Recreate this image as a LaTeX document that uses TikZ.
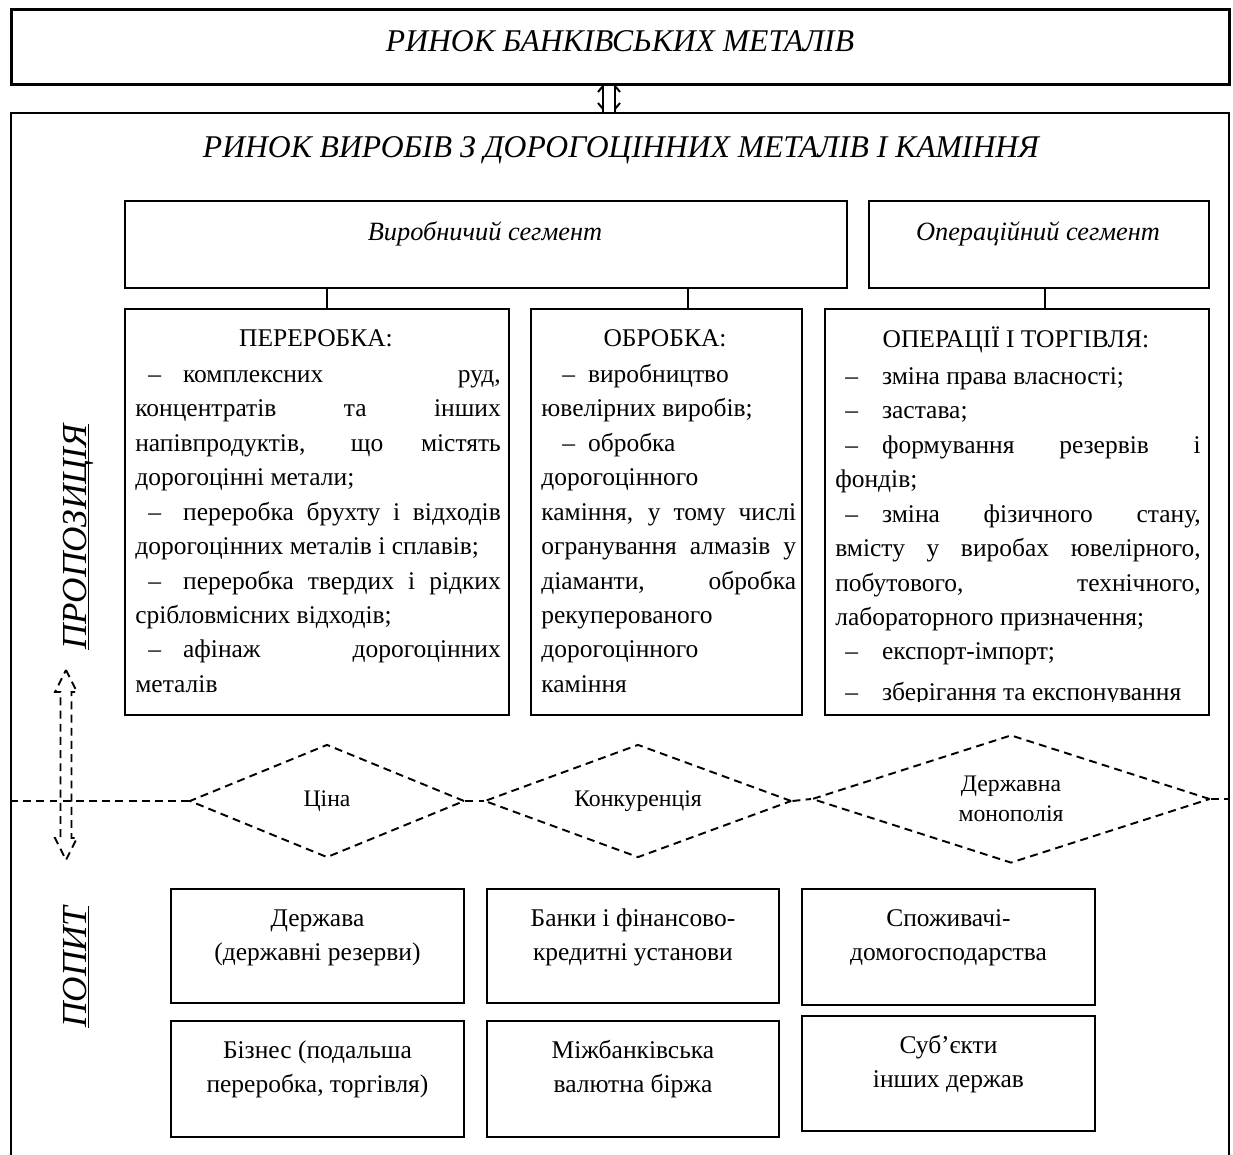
\documentclass[tikz,border=0pt]{standalone}
\usepackage{fontspec}
\setmainfont{Liberation Serif}
\usetikzlibrary{shapes.geometric}
\newcommand{\boxat}[6][]{\node[box,#1,minimum width={(#5-#3)*0.02cm},minimum height={(#6-#4)*0.02cm}] (#2) at (#3,#4) {};}
\newcommand{\dsh}[2]{\hbox to #2{\hskip #1–\hfil}}
\newcommand{\ulx}[1]{\underline{\raisebox{0pt}[\height][0pt]{#1}}}
\begin{document}
\begin{tikzpicture}[x=0.02cm,y=-0.02cm,
  box/.style={draw, line width=1.1pt, rectangle, inner sep=0pt, anchor=north west},
  body/.style={font=\fontsize{14.5pt}{19.6pt}\selectfont, inner sep=0pt},
  para/.style={body, text width=#1, align=justify, anchor=north west},
  ttl/.style={font=\fontsize{18pt}{21pt}\selectfont\itshape, inner sep=0pt, anchor=base},
  seg/.style={font=\fontsize{15pt}{18pt}\selectfont\itshape, inner sep=0pt, anchor=base},
  side/.style={font=\fontsize{20pt}{24pt}\selectfont\itshape, inner sep=0pt, rotate=90, anchor=base},
  dsl/.style={dash pattern=on 4.5pt off 3pt, line width=1.1pt},
  dia/.style={diamond, draw, dsl, inner sep=0pt, aspect=3, font=\fontsize{13.5pt}{17pt}\selectfont, align=center},
  conn/.style={line width=1.1pt},
]
\useasboundingbox (0,0) rectangle (1233,1155);
\fill[white] (0,0) rectangle (1233,1155);

% top boxes
\boxat[line width=1.6pt]{top}{10}{8}{1228}{83}
\boxat[line width=1.4pt]{outer}{10}{112}{1228}{1190}
\node[ttl] (ttop) at (620,52) {РИНОК БАНКІВСЬКИХ МЕТАЛІВ};
\node[ttl] (tout) at (621,158) {РИНОК ВИРОБІВ З ДОРОГОЦІННИХ МЕТАЛІВ І КАМІННЯ};

% small double connector
\draw[conn] (top.south -| 603,0) -- (outer.north -| 603,0);
\draw[conn] (top.south -| 615,0) -- (outer.north -| 615,0);
\draw[conn] (603,86) -- (598,92) (603,109) -- (598,103);
\draw[conn] (615,86) -- (620,92) (615,109) -- (620,103);

% segments
\boxat{seg1}{124}{200}{846}{287}
\boxat{seg2}{868}{200}{1208}{287}
\node[seg] (tseg1) at (485,241) {Виробничий сегмент};
\node[seg] (tseg2) at (1038,241) {Операційний сегмент};

\boxat{perer}{124}{308}{508}{714}
\boxat{obrob}{530}{308}{801}{714}
\boxat{oper}{824}{308}{1208}{714}

\draw[conn] (seg1.south -| 327,0) -- (perer.north -| 327,0);
\draw[conn] (seg1.south -| 688,0) -- (obrob.north -| 688,0);
\draw[conn] (seg2.south -| 1045,0) -- (oper.north -| 1045,0);

\node[body, anchor=base] (hperer) at (316,346.5) {ПЕРЕРОБКА:};
\node[body, anchor=base] (hobrob) at (665,346.5) {ОБРОБКА:};
\node[body, anchor=base] (hoper) at (1016,347.5) {ОПЕРАЦІЇ І ТОРГІВЛЯ:};

\node[para=208pt] (pperer) at (135,358) {\parindent=0pt\tolerance=10000\hbadness=10000
\strut\dsh{7.4pt}{27.2pt}комплексних руд,\linebreak
концентратів та інших\linebreak
напівпродуктів, що містять\linebreak
дорогоцінні метали;\newline
\dsh{7.4pt}{27.2pt}переробка брухту і відходів\linebreak
дорогоцінних металів і сплавів;\newline
\dsh{7.4pt}{27.2pt}переробка твердих і рідких\linebreak
срібловмісних відходів;\newline
\dsh{7.4pt}{27.2pt}афінаж дорогоцінних\linebreak
металів};

\node[para=145pt] (pobrob) at (541,358) {\parindent=0pt\tolerance=10000\hbadness=10000
\strut\dsh{11.9pt}{26.6pt}виробництво\newline
ювелірних виробів;\newline
\dsh{11.9pt}{26.6pt}обробка\newline
дорогоцінного\newline
каміння, у тому числі\linebreak
огранування алмазів у\linebreak
діаманти, обробка\linebreak
рекуперованого\newline
дорогоцінного\newline
каміння};

\begin{scope}
\clip (824,308) rectangle (1208,701);
\node[para=208pt] (poper) at (835,360) {\parindent=0pt\tolerance=10000\hbadness=10000
\strut\dsh{5.7pt}{26.6pt}зміна права власності;\newline
\dsh{5.7pt}{26.6pt}застава;\newline
\dsh{5.7pt}{26.6pt}формування резервів і\linebreak
фондів;\newline
\dsh{5.7pt}{26.6pt}зміна фізичного стану,\linebreak
вмісту у виробах ювелірного,\linebreak
побутового, технічного,\linebreak
лабораторного призначення;\newline
\dsh{5.7pt}{26.6pt}експорт-імпорт;\vadjust{\vskip 3.5pt}\newline
\dsh{5.7pt}{26.6pt}зберігання та експонування};
\end{scope}

% side labels
\node[side] (prop) at (86,537) {\ulx{ПРОПОЗИЦІЯ}};
\node[side] (pop) at (86,967) {\ulx{ПОПИТ}};

% dashed double arrow
\draw[dsl] (66,670) -- (77,692) -- (71.5,692) -- (71.5,838) -- (77,838) -- (66,860)
  -- (55,838) -- (60.5,838) -- (60.5,692) -- (55,692) -- cycle;

% diamonds
\node[dia, minimum width={275*0.02cm}, minimum height={113*0.02cm}] (dia1) at (327,801) {Ціна};
\node[dia, minimum width={307*0.02cm}, minimum height={113*0.02cm}] (dia2) at (638,801) {Конкуренція};
\node[dia, minimum width={398*0.02cm}, minimum height={128*0.02cm}] (dia3) at (1011,799) {Державна\\монополія};
\draw[dsl] (outer.west |- dia1.west) -- (dia1.west);
\draw[dsl] (dia1.east) -- (dia2.west);
\draw[dsl] (dia2.east) -- (dia3.west);
\draw[dsl] (dia3.east) -- (outer.east |- dia3.east);

% demand boxes
\boxat{b1}{170}{888}{463}{1002}
\boxat{b2}{486}{888}{778}{1002}
\boxat{b3}{801}{888}{1094}{1004}
\boxat{b4}{170}{1020}{463}{1136}
\boxat{b5}{486}{1020}{778}{1136}
\boxat{b6}{801}{1015}{1094}{1130}
\node[body, align=center, anchor=north] (tb1) at (b1.north |- 0,902) {\strut Держава\\(державні резерви)};
\node[body, align=center, anchor=north] (tb2) at (b2.north |- 0,902) {\strut Банки і фінансово-\\кредитні установи};
\node[body, align=center, anchor=north] (tb3) at (b3.north |- 0,902) {\strut Споживачі-\\домогосподарства};
\node[body, align=center, anchor=north] (tb4) at (b4.north |- 0,1034) {\strut Бізнес (подальша\\переробка, торгівля)};
\node[body, align=center, anchor=north] (tb5) at (b5.north |- 0,1034) {\strut Міжбанківська\\валютна біржа};
\node[body, align=center, anchor=north] (tb6) at (b6.north |- 0,1029) {\strut Суб’єкти\\інших держав};
\end{tikzpicture}
\end{document}
